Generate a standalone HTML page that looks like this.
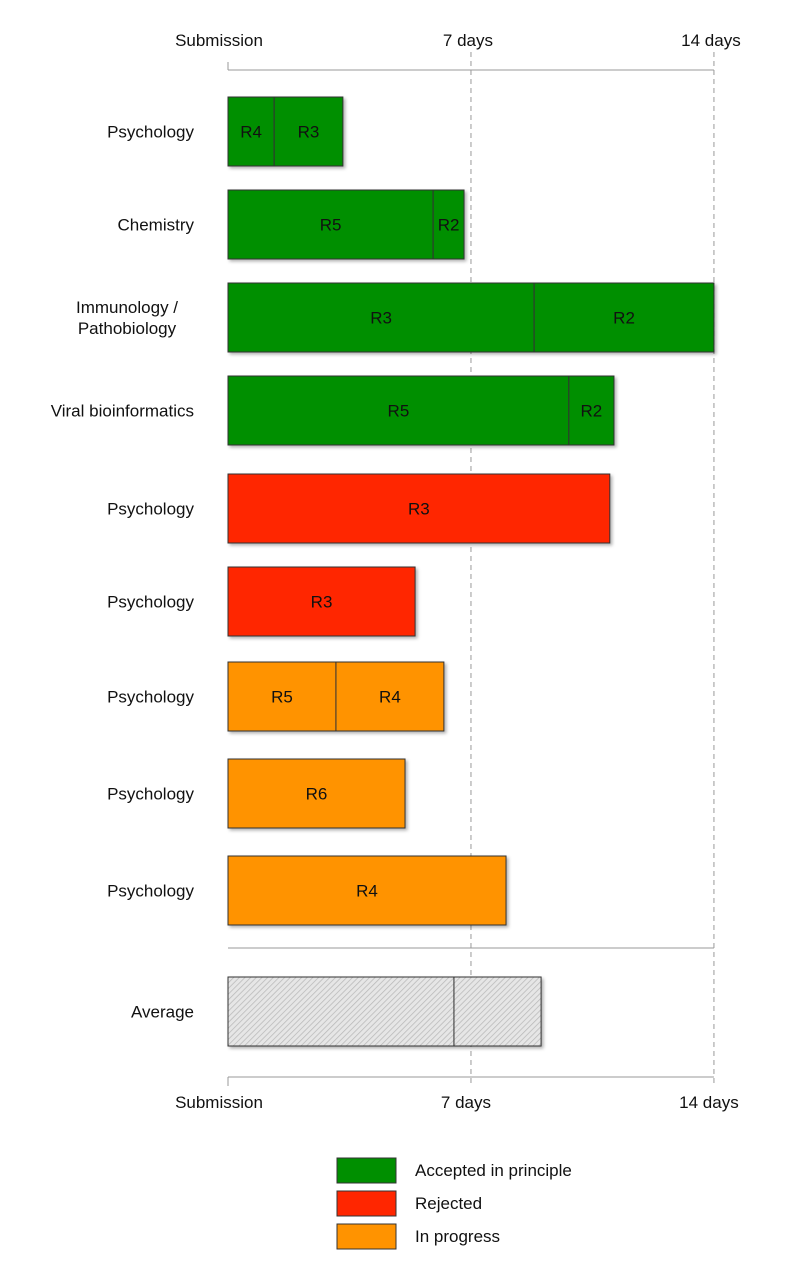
<!DOCTYPE html>
<html><head><meta charset="utf-8"><style>
body{margin:0;background:#fff}
svg{display:block;font-family:"Liberation Sans",sans-serif}
</style></head><body>
<svg id="c" width="800" height="1287" viewBox="0 0 800 1287">
<defs>
<pattern id="hatch" width="4" height="4" patternUnits="userSpaceOnUse" patternTransform="rotate(45)">
<rect width="4" height="4" fill="#e6e6e6"/><line x1="0" y1="0" x2="0" y2="4" stroke="#b8b8b8" stroke-width="1.5"/>
</pattern>
<filter id="sh" x="-5%" y="-10%" width="115%" height="130%"><feDropShadow dx="2" dy="2" stdDeviation="1.5" flood-color="#000" flood-opacity="0.3"/></filter>
</defs>
<g id="axes"></g>
<g id="bars"></g>
<g id="legend"></g>
</svg>
<script>
const categories=["Psychology","Chemistry","Immunology / Pathobiology","Viral bioinformatics","Psychology","Psychology","Psychology","Psychology","Psychology","Average"];
const statuses=["accepted","accepted","accepted","accepted","rejected","rejected","progress","progress","progress","average"];
const segLabels=[["R4","R3"],["R5","R2"],["R3","R2"],["R5","R2"],["R3"],["R3"],["R5","R4"],["R6"],["R4"],["",""]];
const segDays=[[1.33,1.98],[5.91,0.89],[8.82,5.18],[9.82,1.3],[11.0],[5.39],[3.11,3.11],[5.1],[8.01],[6.51,2.51]];
const tickDays=[0,7,14];
const tickLabels=["Submission","7 days","14 days"];
const legendLabels=["Accepted in principle","Rejected","In progress"];
const colors={accepted:"#008f00",rejected:"#ff2600",progress:"#ff9300",average:"url(#hatch)"};
const NS="http://www.w3.org/2000/svg";
const x0=228,pxDay=34.71;
const xs=d=>x0+d*pxDay;
const rowY=[97,190,283,376,474,567,662,759,856,977];
const barH=69;
function el(t,a,p){const e=document.createElementNS(NS,t);for(const k in a)e.setAttribute(k,a[k]);p.appendChild(e);return e;}
const axes=document.getElementById('axes'),bars=document.getElementById('bars'),leg=document.getElementById('legend');
// axes
let e=el('line',{x1:xs(0),x2:xs(14),y1:70,y2:70,stroke:'#999'},axes);

e=el('line',{x1:xs(0),x2:xs(14),y1:1077,y2:1077,stroke:'#999'},axes);

e=el('line',{x1:xs(0),x2:xs(14),y1:948,y2:948,stroke:'#999'},axes);

tickDays.forEach((d,i)=>{
  const x=xs(d);
  if(d===0){
    e=el('line',{x1:x,x2:x,y1:62,y2:70,stroke:'#999'},axes);
    
    e=el('line',{x1:x,x2:x,y1:1077,y2:1086,stroke:'#999'},axes);
    
  } else {
    e=el('line',{x1:x,x2:x,y1:52,y2:1086,stroke:'#999','stroke-dasharray':'5,4'},axes);
    
  }
  e=el('text',{x:x-9*(i===0?0:0),y:46,'text-anchor':'middle','font-size':17,fill:'#111'},axes);
  e.setAttribute('x',i===0?x-9:x-3);
  e.textContent=tickLabels[i];
  
  e=el('text',{x:i===0?x-9:x-5,y:1108,'text-anchor':'middle','font-size':17,fill:'#111'},axes);
  e.textContent=tickLabels[i];
  
});
// bars
categories.forEach((c,r)=>{
  const y=rowY[r];
  const g=el('g',{filter:'url(#sh)'},bars);
  
  let cum=0;
  segDays[r].forEach((d,j)=>{
    const xa=xs(cum),xb=xs(cum+d);
    e=el('rect',{x:xa,y:y,width:xb-xa,height:barH,fill:colors[statuses[r]],stroke:'#333','stroke-width':1},g);
    
    if(segLabels[r][j]){
      e=el('text',{x:(xa+xb)/2,y:y+barH/2+6,'text-anchor':'middle','font-size':17,fill:'#111'},bars);
      e.textContent=segLabels[r][j];
      
    }
    cum+=d;
  });
  const lines=c.includes(' / ')?[c.split(' / ')[0]+' /',c.split(' / ')[1]]:[c];
  lines.forEach((t,k)=>{
    e=el('text',{x:194,y:y+barH/2+6+(lines.length>1?(k-0.5)*21:0),'text-anchor':'end','font-size':17,fill:'#111'},axes);
    if(lines.length>1){e.setAttribute('text-anchor','middle');e.setAttribute('x',127);}
    e.textContent=t;
    
  });
});
// legend
["accepted","rejected","progress"].forEach((s,i)=>{
  const y=1158+i*33;
  e=el('rect',{x:337,y:y,width:59,height:25,fill:colors[s],stroke:'#333'},leg);
  
  e=el('text',{x:415,y:y+18,'font-size':17,fill:'#111'},leg);
  e.textContent=legendLabels[i];
  
});
</script>
</body></html>
